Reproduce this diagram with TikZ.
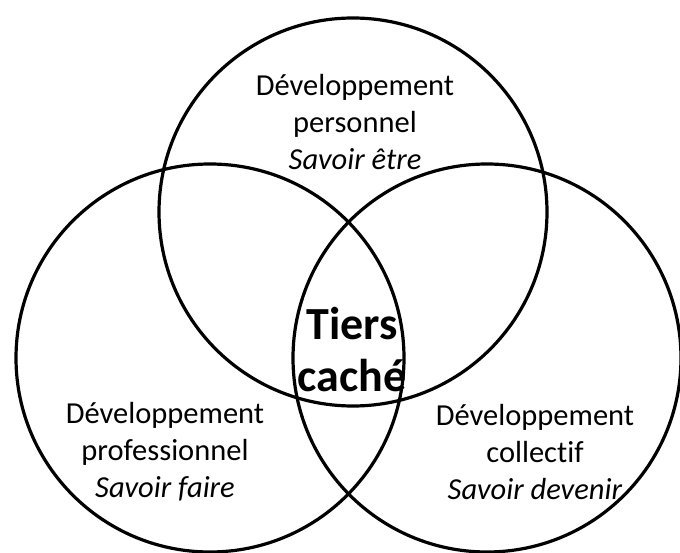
\documentclass[tikz,border=0pt]{standalone}
\usepackage{fontspec}
\setmainfont{Carlito}[Ligatures={NoCommon,TeX}]
\usepackage{tikz}
\usetikzlibrary{positioning}
\tikzset{
    cercle/.style={circle,draw,line width=3.2pt,minimum size=388pt,inner sep=0pt,fill=none},
    domaine/.style={align=center,draw=none,fill=none,inner sep=0pt,font=\fontsize{30.5}{37}\selectfont},
    tiers/.style={align=center,draw=none,fill=none,inner sep=0pt,font=\bfseries\fontsize{46}{52}\selectfont},
}

\begin{document}
\begin{tikzpicture}[x=1pt,y=-1pt]
    \useasboundingbox (0,0) rectangle (680,553);
    \node [cercle] (perso)     at (353,212) {};
    \node [cercle] (pro)       at (210,358) {};
    \node [cercle] (collectif) at (487,358) {};

    \node [domaine] (txtPerso) at (355,122) {Développement\\personnel\\\textit{Savoir être}};
    \node [domaine] (txtPro) at (165,452) {Développement\\professionnel\\\textit{Savoir faire}};
    \node [domaine] (txtCollectif) at (535,452) {Développement\\collectif\\\textit{Savoir devenir}};
    \node [tiers] (txtTiers) at (352,350) {Tiers\\caché};
\end{tikzpicture}
\end{document}
